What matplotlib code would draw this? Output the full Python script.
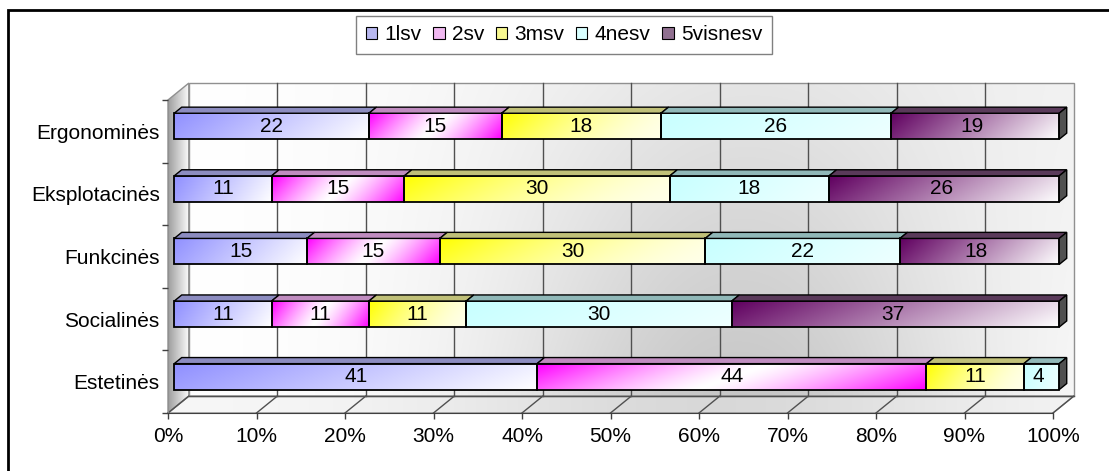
import numpy as np
import matplotlib.pyplot as plt
from matplotlib.patches import Polygon, Rectangle, Patch
from matplotlib.colors import to_rgb

plt.rcParams['font.family'] = ['Liberation Sans', 'DejaVu Sans']

# data (bottom row first)
categories = ['Estetinės', 'Socialinės', 'Funkcinės', 'Eksplotacinės', 'Ergonominės']
series_names = ['1lsv', '2sv', '3msv', '4nesv', '5visnesv']
s1 = [41, 11, 15, 11, 22]
s2 = [44, 11, 15, 15, 15]
s3 = [11, 11, 30, 30, 18]
s4 = [4, 30, 22, 18, 26]
s5 = [0, 37, 18, 26, 19]
xticks = list(range(0, 101, 10))

values = np.array([s1, s2, s3, s4, s5], dtype=float)
shares = values / values.sum(axis=0) * 100

# (strong colour, light colour, gradient kind) per series
styles = [('#9090FF', '#FFFFFF', 'lin'),
          ('#FF00FF', '#FFFFFF', 'mirror'),
          ('#FFFF00', '#FFFFE8', 'lin'),
          ('#C8FFFF', '#EEFFFF', 'lin'),
          ('#600060', '#FFFFFF', 'lin')]
top_cols = ['#8C8CC0', '#C08CC0', '#C0C078', '#90B8B8', '#5A3A5A']
legend_cols = ['#B8B8F0', '#F0B8F0', '#F8F890', '#D8FFFF', '#907090']
FS = 15

W, H = 1109, 471
fig = plt.figure(figsize=(W / 100, H / 100), dpi=100)
ax = fig.add_axes([168 / W, (H - 413) / H, 885 / W, 313 / H])
ax.set_xlim(0, 100)
ax.set_ylim(0, 5)

DX, DY = 2.35, 0.27     # depth of the floor, data units
d1, d2 = 0.3, 0.66      # front / back of the bars
bh = 0.415


def grad(a, b, kind, nx=160, ny=24, power=1.0):
    u = np.linspace(0, 1, nx)[None, :]
    v = np.linspace(0, 1, ny)[:, None]
    t = np.clip(0.85 * u + 0.15 * (1 - v), 0, 1)
    if kind == 'mirror':
        w = np.abs(2 * t - 1) ** 1.3
    else:
        w = (1 - t) ** power
    A, B = np.array(to_rgb(a)), np.array(to_rgb(b))
    return w[..., None] * A + (1 - w[..., None]) * B


def put_image(img, extent, clip, z):
    im = ax.imshow(img, extent=extent, origin='lower', aspect='auto',
                   interpolation='bilinear', zorder=z)
    im.set_clip_path(clip)
    im.set_clip_box(fig.bbox)
    return im


# back wall
u = np.linspace(0, 1, 200)[None, :]
v = np.linspace(0, 1, 60)[:, None]
g = 1 - 0.22 * np.exp(-((u - 0.62) / 0.28) ** 2) * (0.35 + 0.65 * (1 - v)) - 0.04 * u * v
back = Polygon([(DX, DY), (100 + DX, DY), (100 + DX, 5 + DY), (DX, 5 + DY)],
               closed=True, fc='none', ec='#909090', lw=1, clip_on=False, zorder=0.5)
ax.add_patch(back)
put_image(np.dstack([g, g, g]), (DX, 100 + DX, DY, 5 + DY), back, 0)

# floor
gf = 0.97 - 0.12 * np.exp(-((u - 0.6) / 0.3) ** 2) + 0 * v
floor = Polygon([(0, 0), (100, 0), (100 + DX, DY), (DX, DY)],
                closed=True, fc='none', ec='#909090', lw=1, clip_on=False, zorder=0.5)
ax.add_patch(floor)
put_image(np.dstack([gf, gf, gf]), (0, 100 + DX, 0, DY), floor, 0)

# left wall
gl = 0.62 + 0.36 * np.linspace(0, 1, 40)[None, :] + 0 * np.ones((10, 1))
lwall = Polygon([(0, 0), (DX, DY), (DX, 5 + DY), (0, 5)],
                closed=True, fc='none', ec='#909090', lw=1, clip_on=False, zorder=0.5)
ax.add_patch(lwall)
put_image(np.dstack([gl, gl, gl]), (0, DX, 0, 5 + DY), lwall, 0)

# grid lines on back wall and floor
for t in xticks:
    if 0 < t < 100:
        ax.plot([t + DX, t + DX], [DY, 5 + DY], color='#505050', lw=1,
                clip_on=False, zorder=1)
    ax.plot([t, t + DX], [0, DY], color='#505050', lw=1, clip_on=False, zorder=1)
ax.plot([DX, 100 + DX], [DY, DY], color='#505050', lw=1, clip_on=False, zorder=1)

# bars
ypos = np.arange(len(categories)) + 0.5
lefts = np.zeros(len(categories))
for j in range(len(series_names)):
    w = shares[j]
    bars = ax.barh(ypos + d1 * DY, w, left=lefts + d1 * DX, height=bh,
                   color=styles[j][0], edgecolor='black', lw=1.3, zorder=3)
    for k, b in enumerate(bars):
        b.set_clip_on(False)
        if w[k] <= 0:
            b.set_visible(False)
            continue
        x0, y0 = b.get_x(), b.get_y()
        pw = 1.6 if j == 2 else 1.0
        put_image(grad(styles[j][0], styles[j][1], styles[j][2], power=pw),
                  (x0, x0 + b.get_width(), y0, y0 + bh), b, 2)
        b.set_facecolor('none')
        # top face
        yt = ypos[k] - bh / 2 + bh
        xl, xr = lefts[k], lefts[k] + w[k]
        top = Polygon([(xl + d1 * DX, yt + d1 * DY), (xr + d1 * DX, yt + d1 * DY),
                       (xr + d2 * DX, yt + d2 * DY), (xl + d2 * DX, yt + d2 * DY)],
                      closed=True, fc=top_cols[j], ec='black', lw=1.0,
                      clip_on=False, zorder=3)
        ax.add_patch(top)
    ax.bar_label(bars, labels=[f'{int(x)}' if x > 0 else '' for x in values[j]],
                 label_type='center', fontsize=FS, zorder=4)
    lefts = lefts + w

# right side faces
for k in range(len(categories)):
    xr = lefts[k]
    yb, yt = ypos[k] - bh / 2, ypos[k] + bh / 2
    side = Polygon([(xr + d1 * DX, yb + d1 * DY), (xr + d1 * DX, yt + d1 * DY),
                    (xr + d2 * DX, yt + d2 * DY), (xr + d2 * DX, yb + d2 * DY)],
                   closed=True, fc='#505050', ec='black', lw=1.0, clip_on=False, zorder=3)
    ax.add_patch(side)

# axes
for s in ['top', 'right']:
    ax.spines[s].set_visible(False)
ax.spines['bottom'].set_color('#404040')
ax.spines['left'].set_color('#909090')
ax.spines['bottom'].set_zorder(1.5)
ax.spines['left'].set_zorder(1.5)
ax.set_xticks(xticks)
ax.set_xticklabels([f'{t}%' for t in xticks], fontsize=FS)
ax.set_yticks(range(6))
ax.set_yticklabels([])
ax.set_yticks(ypos, minor=True)
ax.set_yticklabels(categories, minor=True, fontsize=FS)
ax.tick_params(axis='x', length=4, width=1, color='#404040', pad=6)
ax.tick_params(axis='y', which='major', length=4, width=1, color='#404040')
ax.tick_params(axis='y', which='minor', length=0, pad=6)
ax.set_facecolor('none')

# legend
handles = [Patch(facecolor=c, edgecolor='black', lw=0.8) for c in legend_cols]
fig.legend(handles, series_names, loc='center', bbox_to_anchor=(564 / W, 1 - 35 / H),
           ncol=5, fontsize=FS, handlelength=0.55, handleheight=0.55,
           handletextpad=0.35, columnspacing=0.55, borderpad=0.45,
           fancybox=False, edgecolor='#808080', framealpha=1)

# outer frame (only top and left edges fall inside the picture)
fig.patches.append(Rectangle((8 / W, -0.05), 1.2, 1 - 10 / H + 0.05,
                             transform=fig.transFigure, fill=False,
                             ec='black', lw=2))

fig.savefig('out.png', dpi=100)
